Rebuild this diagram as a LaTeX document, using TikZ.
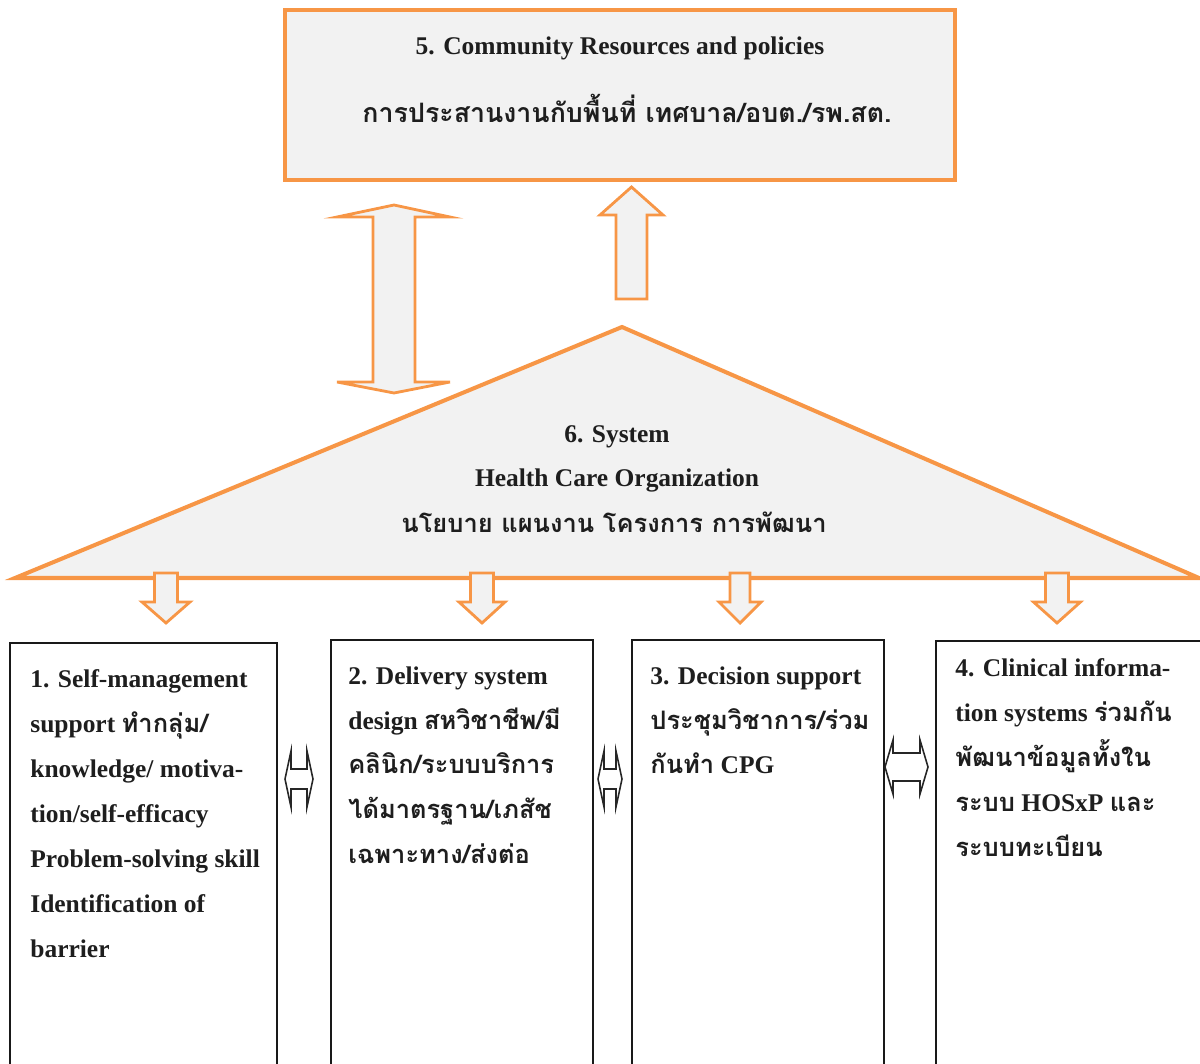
\documentclass[tikz,border=0pt]{standalone}
\usepackage{fontspec}
\setmainfont{Liberation Serif}
\newfontfamily\thaifont[Script=Thai,Scale=1.0]{Loma}
\newcommand{\thai}[1]{{\thaifont #1}}
\definecolor{accorange}{HTML}{F79646}
\definecolor{panelgray}{HTML}{F2F2F2}
\definecolor{inkgray}{HTML}{1E1E1E}

\begin{document}
\begin{tikzpicture}[x=0.02cm,y=-0.02cm,line join=miter,
    orangebox/.style={draw=accorange,fill=panelgray,line width=2.3pt},
    blockarrow/.style={draw=accorange,fill=panelgray,line width=1.6pt},
    linkarrow/.style={draw=black!85,fill=white,line width=0.9pt},
    cardbox/.style={draw=black!90,line width=1.2pt},
    headline/.style={font=\fontsize{14.5}{17}\selectfont\bfseries,text=inkgray,inner sep=0pt},
    cardtext/.style={anchor=north west,align=left,inner sep=0pt,text=inkgray,
        font=\fontsize{14.5}{25.6}\selectfont\bfseries}]
    \useasboundingbox (0,0) rectangle (1200,1064);

    % community box
    \draw[orangebox] (285,10) rectangle (955,180);
    \node[headline] (community) at (620,48) {5. Community Resources and policies};
    \node[headline,scale=1.05] (communityth) at (627,108) {\thai{การประสานงานกับพื้นที่ เทศบาล/อบต./รพ.สต.}};

    % arrows between box and triangle
    \draw[blockarrow] (394,205) -- (450,217) -- (415,217) -- (415,382) -- (450,382) -- (394,393)
        -- (337,382) -- (373,382) -- (373,217) -- (337,217) -- cycle;
    \draw[blockarrow] (631.5,187) -- (663,215) -- (647,215) -- (647,299) -- (616,299) -- (616,215)
        -- (600,215) -- cycle;

    % system triangle
    \draw[orangebox] (15,578) -- (622,327) -- (1199,578) -- cycle;
    \node[headline] (system) at (617,437) {6. System};
    \node[headline] (hco) at (617,480) {Health Care Organization};
    \node[headline] (systemth) at (614,522) {\thai{นโยบาย แผนงาน โครงการ การพัฒนา}};

    % arrows down to the four elements
    \foreach \c/\s/\h in {166/11.5/24,482/11.5/23,740/10/21,1057/11.5/23.5}{
        \draw[blockarrow] (\c-\s,573) -- (\c+\s,573) -- (\c+\s,602) -- (\c+\h,602) -- (\c,623)
            -- (\c-\h,602) -- (\c-\s,602) -- cycle;
    }

    % element boxes
    \draw[cardbox] (10,1066) -- (10,643) -- (277,643) -- (277,1066);
    \draw[cardbox] (331,1066) -- (331,640) -- (593,640) -- (593,1066);
    \draw[cardbox] (632,1066) -- (632,640) -- (884,640) -- (884,1066);
    \draw[cardbox] (936,1066) -- (936,641) -- (1202,641);

    \node[cardtext] (selfmgmt) at (30,669) {1. Self-management\\support \thai{ทำกลุ่ม/}\\knowledge/ motiva-\\tion/self-efficacy\\Problem-solving skill\\Identification of\\barrier};
    \node[cardtext] (delivery) at (348,666) {2. Delivery system\\design \thai{สหวิชาชีพ/มี}\\\thai{คลินิก/ระบบบริการ}\\\thai{ได้มาตรฐาน/เภสัช}\\\thai{เฉพาะทาง/ส่งต่อ}};
    \node[cardtext] (decision) at (650,666) {3. Decision support\\\thai{ประชุมวิชาการ/ร่วม}\\\thai{กันทำ} CPG};
    \node[cardtext] (clinical) at (955,658) {4. Clinical informa-\\tion systems \thai{ร่วมกัน}\\\thai{พัฒนาข้อมูลทั้งใน}\\\thai{ระบบ} HOSxP \thai{และ}\\\thai{ระบบทะเบียน}};

    % links between the boxes
    \foreach \a/\b/\m/\hh/\ss/\hl in {285/313/779/28/10/6,598/622/779/28/10/6,885/928/767/27/14/8}{
        \draw[linkarrow] (\a,\m) -- (\a+\hl,\m-\hh) -- (\a+\hl,\m-\ss) -- (\b-\hl,\m-\ss) -- (\b-\hl,\m-\hh)
            -- (\b,\m) -- (\b-\hl,\m+\hh) -- (\b-\hl,\m+\ss) -- (\a+\hl,\m+\ss) -- (\a+\hl,\m+\hh) -- cycle;
    }
\end{tikzpicture}
\end{document}
